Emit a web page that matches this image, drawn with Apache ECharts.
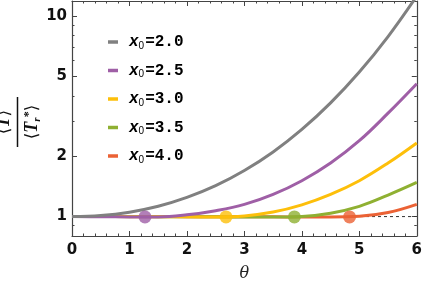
<!DOCTYPE html>
<html><head><meta charset="utf-8">
<script src="https://cdn.jsdelivr.net/npm/echarts@6/dist/echarts.min.js"></script>
<style>html,body{margin:0;padding:0;background:#fff}#c{width:425px;height:287px}</style>
</head><body><div id="c"></div>
<script>
// ---- data ----
const theta = [0, 0.5, 1, 1.5, 2, 2.5, 3, 3.5, 4, 4.5, 5, 5.5, 6];
const x0Labels = ['2.0', '2.5', '3.0', '3.5', '4.0'];
const gray   = [1.000, 1.012, 1.052, 1.126, 1.246, 1.426, 1.697, 2.10, 2.72, 3.69, 5.26, 7.91, 12.6];
const purple = [1.000, 0.998, 0.996, 0.996, 1.02, 1.07, 1.15, 1.29, 1.51, 1.85, 2.39, 3.28, 4.60];
const yellow = [1.000, 1.000, 0.999, 0.998, 0.997, 0.996, 1.008, 1.053, 1.144, 1.29, 1.51, 1.85, 2.33];
const green  = [1.000, 1.000, 1.000, 0.999, 0.998, 0.997, 0.996, 0.996, 1.002, 1.04, 1.125, 1.28, 1.48];
const orange = [1.000, 1.000, 1.000, 1.000, 0.999, 0.998, 0.997, 0.997, 0.996, 0.996, 1.003, 1.047, 1.15];
const dotTheta = [1.27, 2.68, 3.87, 4.83];
const dotValue = [0.996, 0.996, 0.996, 0.996];
const yTickLabels = [1, 2, 5, 10];
const yMinorTicks = [0.9, 3, 4, 6, 7, 8, 9];
const refLine = [[0, 1], [6, 1]];

// ---- styles ----
const palette = ['#808080', '#9f5fa6', '#fdbf0a', '#8fb032', '#eb6235'];
const curves = [gray, purple, yellow, green, orange];
const frameColor = '#444';
const labelFont = { fontFamily: 'DejaVu Sans', fontWeight: 'bold', fontSize: 15, color: '#111' };

const seriesNames = x0Labels.map(v => 'x0=' + v);
const series = [];
series.push({
  type: 'line', data: refLine, symbol: 'none', silent: true, z: 1,
  lineStyle: { color: '#333', width: 1, type: [3, 3] }
});
curves.forEach((vals, i) => {
  series.push({
    name: seriesNames[i], type: 'line', symbol: 'none', smooth: 0.4,
    z: 10 - i,
    data: theta.map((t, k) => [t, vals[k]]),
    lineStyle: { color: palette[i], width: 3 },
    itemStyle: { color: palette[i] }
  });
});
series.push({
  type: 'scatter', symbolSize: 13, z: 20, silent: true,
  data: dotTheta.map((t, k) => ({ value: [t, dotValue[k]], itemStyle: { color: palette[k + 1] } }))
});

function xAx(pos, labels) {
  return {
    type: 'value', position: pos, min: 0, max: 6, interval: 1,
    axisLine: { show: true, onZero: false, lineStyle: { color: frameColor, width: 1.2 } },
    axisTick: { show: true, inside: true, length: 5, lineStyle: { color: frameColor } },
    minorTick: { show: true, splitNumber: 5, length: 2.5, lineStyle: { color: frameColor } },
    axisLabel: Object.assign({ show: labels, margin: 7 }, labelFont),
    splitLine: { show: false }, minorSplitLine: { show: false },
    name: labels ? 'θ' : '', nameLocation: 'middle', nameGap: 30,
    nameTextStyle: { fontFamily: 'DejaVu Serif', fontStyle: 'italic', fontSize: 16, color: '#222' }
  };
}
function yAx(pos, ticks, len, labels, line) {
  return {
    type: 'log', position: pos, min: 0.8, max: 11.9,
    axisLine: { show: line, onZero: false, lineStyle: { color: frameColor, width: 1.2 } },
    axisTick: { show: true, inside: true, length: len, customValues: ticks, lineStyle: { color: frameColor } },
    axisLabel: Object.assign({ show: labels, margin: 5, customValues: yTickLabels }, labelFont),
    splitLine: { show: false }, minorTick: { show: false }
  };
}

const monoB = { fontFamily: 'Liberation Mono', fontWeight: 'bold', fontSize: 16, color: '#000', lineHeight: 18, verticalAlign: 'middle' };
const option = {
  animation: false,
  grid: { left: 72, right: 7, top: 1, bottom: 45, containLabel: false },
  xAxis: [xAx('bottom', true), xAx('top', false)],
  yAxis: [
    yAx('left', yTickLabels, 5, true, true),
    yAx('left', yMinorTicks, 2.5, false, false),
    yAx('right', yTickLabels, 5, false, true),
    yAx('right', yMinorTicks, 2.5, false, false)
  ],
  legend: {
    orient: 'vertical', left: 103, top: 28, itemGap: 10.5,
    data: seriesNames.map(n => ({ name: n, icon: 'rect' })), itemWidth: 10, itemHeight: 3.5,
    selectedMode: false,
    formatter: n => '{x|x}{s|0}{n|' + n.slice(2) + '}',
    textStyle: {
      padding: [0, 0, 0, 6], lineHeight: 18,
      rich: {
        x: Object.assign({}, monoB, { fontStyle: 'italic' }),
        s: { fontFamily: 'Liberation Sans', fontSize: 10, color: '#000', lineHeight: 18, verticalAlign: 'bottom', padding: [0, 1, 0, 0] },
        n: monoB
      }
    }
  },
  graphic: [{
    type: 'group', x: 17.5, y: 122, rotation: Math.PI / 2,
    children: [
      { type: 'line', shape: { x1: -25, y1: 0, x2: 25, y2: 0 }, style: { stroke: '#111', lineWidth: 1.5 } },
      { type: 'text', x: 0, y: -4, style: {
          text: '{b|⟨}{t|T}{b|⟩}', align: 'center', verticalAlign: 'bottom',
          rich: {
            b: { fontFamily: 'DejaVu Sans', fontSize: 17, fill: '#111' },
            t: { fontFamily: 'Liberation Serif', fontWeight: 'bold', fontStyle: 'italic', fontSize: 18, fill: '#111' }
          } } },
      { type: 'text', x: 0, y: 5, style: {
          text: '{b|⟨}{t|T}{sub|r}{sup|*}{b|⟩}', align: 'center', verticalAlign: 'top',
          rich: {
            b: { fontFamily: 'DejaVu Sans', fontSize: 17, fill: '#111', lineHeight: 20 },
            t: { fontFamily: 'Liberation Serif', fontWeight: 'bold', fontStyle: 'italic', fontSize: 18, fill: '#111', lineHeight: 20 },
            sub: { fontFamily: 'Liberation Serif', fontWeight: 'bold', fontStyle: 'italic', fontSize: 11, fill: '#111', verticalAlign: 'bottom', lineHeight: 20 },
            sup: { fontFamily: 'Liberation Serif', fontWeight: 'bold', fontSize: 12, fill: '#111', verticalAlign: 'top', lineHeight: 20 }
          } } }
    ]
  }],
  series: series
};
const chart = echarts.init(document.getElementById('c'), null, { renderer: 'canvas' });
chart.setOption(option);
</script></body></html>
